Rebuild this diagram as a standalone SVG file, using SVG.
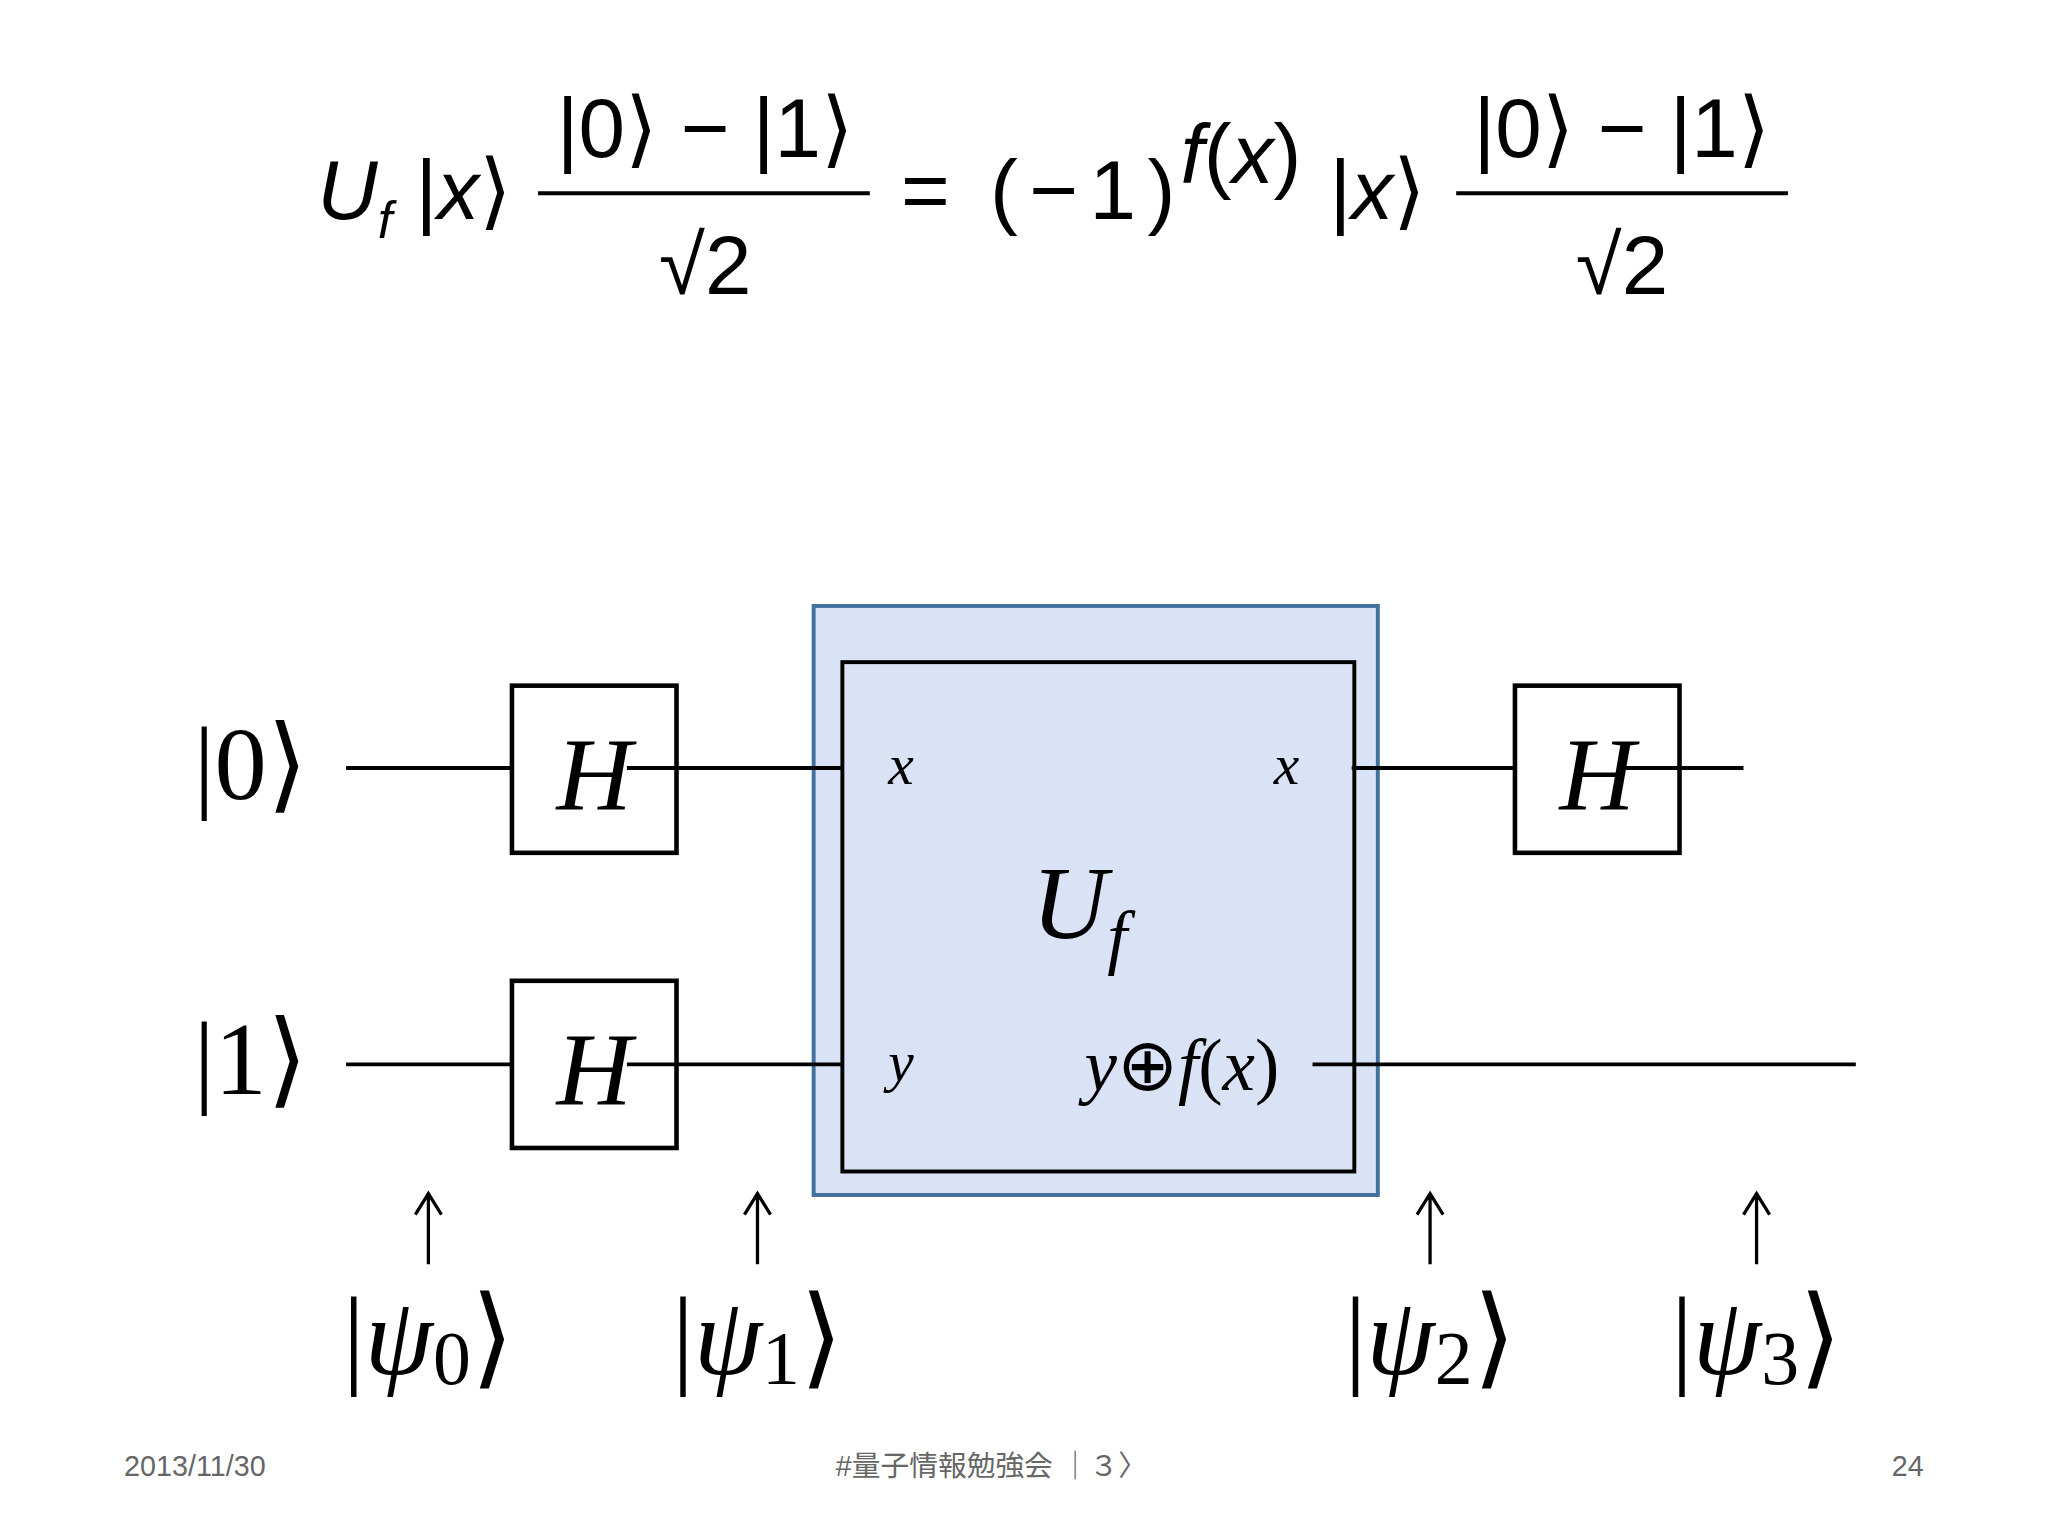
<svg xmlns="http://www.w3.org/2000/svg" width="2048" height="1536" viewBox="0 0 2048 1536">
<style>
.eq{font-family:"Liberation Sans","DejaVu Sans",sans-serif;font-size:64px;fill:#000}
.m{font-family:"Liberation Serif",serif;fill:#000}
.i{font-style:italic}
.w{stroke:#000;stroke-width:3;fill:none}
.g{stroke:#000;stroke-width:3.5;fill:#fff}
.ar{stroke:#000;stroke-width:2.5;fill:none}
.ft{font-family:"Liberation Sans","Noto Sans CJK JP",sans-serif;font-size:22px;fill:#666}
</style>
<rect width="2048" height="1536" fill="#fff"/>
<g transform="scale(1.306)">
<g id="equation">
<text class="eq" x="243" y="168"><tspan font-style="italic">U</tspan><tspan font-style="italic" font-size="40" dy="14">f</tspan><tspan dy="-14"> |</tspan><tspan font-style="italic">x</tspan>⟩</text>
<text class="eq" x="540" y="120" text-anchor="middle">|0⟩ − |1⟩</text>
<line x1="412" y1="148" x2="666" y2="148" stroke="#000" stroke-width="3"/>
<text class="eq" x="540" y="225" text-anchor="middle">√2</text>
<text class="eq" x="690" y="168">=</text>
<text class="eq" x="758" y="168" textLength="142">(−1)</text>
<text class="eq" x="904" y="140" font-size="46"><tspan font-style="italic">f</tspan>(<tspan font-style="italic">x</tspan>)</text>
<text class="eq" x="1018" y="168">|<tspan font-style="italic">x</tspan>⟩</text>
<text class="eq" x="1242" y="120" text-anchor="middle">|0⟩ − |1⟩</text>
<line x1="1115" y1="148" x2="1369" y2="148" stroke="#000" stroke-width="3"/>
<text class="eq" x="1242" y="225" text-anchor="middle">√2</text>
</g>
<g id="uf">
<rect x="623" y="464" width="432" height="451" fill="#dae3f5" stroke="#41719c" stroke-width="3"/>
<rect x="645" y="507" width="392" height="390" fill="none" stroke="#000" stroke-width="3"/>
<text class="m i" x="690" y="600" font-size="44" text-anchor="middle">x</text>
<text class="m i" x="985" y="600" font-size="44" text-anchor="middle">x</text>
<text class="m i" x="690" y="828" font-size="44" text-anchor="middle">y</text>
<text class="m" x="905" y="835" font-size="56" text-anchor="middle"><tspan class="i">y</tspan>⊕<tspan class="i">f</tspan>(<tspan class="i">x</tspan>)</text>
<text class="m i" x="790" y="718" font-size="80">U<tspan font-size="55" dy="18">f</tspan></text>
</g>
<g id="wires">
<line class="w" x1="265" y1="588" x2="645" y2="588"/>
<line class="w" x1="265" y1="815" x2="645" y2="815"/>
<line class="w" x1="1035" y1="588" x2="1335" y2="588"/>
<line class="w" x1="1005" y1="815" x2="1421" y2="815"/>
</g>
<g id="h1"><rect class="g" x="392" y="525" width="126" height="128"/><line class="w" x1="480" y1="588" x2="518" y2="588"/><text class="m i" x="455" y="620" font-size="80" text-anchor="middle">H</text></g>
<g id="h2"><rect class="g" x="392" y="751" width="126" height="128"/><line class="w" x1="480" y1="815" x2="518" y2="815"/><text class="m i" x="455" y="846" font-size="80" text-anchor="middle">H</text></g>
<g id="h3"><rect class="g" x="1160" y="525" width="126" height="128"/><line class="w" x1="1245" y1="588" x2="1286" y2="588"/><text class="m i" x="1223" y="620" font-size="80" text-anchor="middle">H</text></g>
<g id="inputs">
<text class="m" x="192" y="612" font-size="80" text-anchor="middle">|0⟩</text>
<text class="m" x="192" y="838" font-size="80" text-anchor="middle">|1⟩</text>
</g>
<g id="arrows">
<path class="ar" d="M328 968V914M318 930L328 914L338 930"/>
<path class="ar" d="M580 968V914M570 930L580 914L590 930"/>
<path class="ar" d="M1095 968V914M1085 930L1095 914L1105 930"/>
<path class="ar" d="M1345 968V914M1335 930L1345 914L1355 930"/>
</g>
<g id="states" class="m" font-size="84" text-anchor="middle">
<text x="328" y="1052">|<tspan class="i">ψ</tspan><tspan font-size="58" dy="8">0</tspan><tspan dy="-8">⟩</tspan></text>
<text x="580" y="1052">|<tspan class="i">ψ</tspan><tspan font-size="58" dy="8">1</tspan><tspan dy="-8">⟩</tspan></text>
<text x="1095" y="1052">|<tspan class="i">ψ</tspan><tspan font-size="58" dy="8">2</tspan><tspan dy="-8">⟩</tspan></text>
<text x="1345" y="1052">|<tspan class="i">ψ</tspan><tspan font-size="58" dy="8">3</tspan><tspan dy="-8">⟩</tspan></text>
</g>
<g id="footer">
<text class="ft" x="95" y="1130">2013/11/30</text>
<text class="ft" x="640" y="1130">#量子情報勉強会 ｜３〉</text>
<text class="ft" x="1473" y="1130" text-anchor="end">24</text>
</g>
</g>
</svg>
